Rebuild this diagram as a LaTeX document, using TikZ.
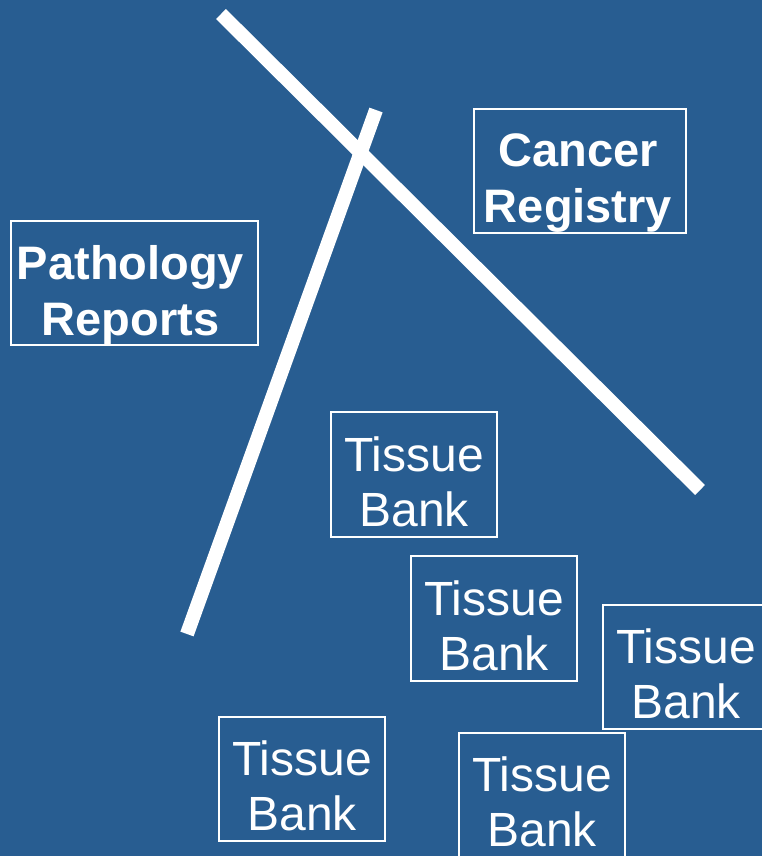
\documentclass[tikz,border=0pt]{standalone}
\usepackage{fontspec}
\setmainfont{Liberation Sans}
\definecolor{bgblue}{RGB}{40,93,145}
\tikzset{
  frame/.style={draw=white, line width=2pt, inner sep=0pt},
  txt/.style={text=white, align=center, inner sep=0pt, font=\fontsize{48}{55}\selectfont},
  boldtxt/.style={txt, font=\fontsize{47}{56}\selectfont\bfseries},
  bar/.style={draw=white, line width=14pt, line cap=butt}
}
\begin{document}
\begin{tikzpicture}[x=1pt,y=-1pt]
\useasboundingbox (0,0) rectangle (762,856);
\clip (0,0) rectangle (762,856);
\fill[bgblue] (0,0) rectangle (762,856);
\coordinate (l1a) at (221,14);
\coordinate (l1b) at (700,490);
\coordinate (l2a) at (376,110);
\coordinate (l2b) at (187,634);
\draw[bar] (l1a) -- (l1b);
\draw[bar] (l2a) -- (l2b);
\node[frame, minimum width=247pt, minimum height=124pt] (path) at (134.5,283) {};
\node[boldtxt] (pathtxt) at ([yshift=-12pt,xshift=-4pt]path.center) {Pathology\\Reports};
\node[frame, minimum width=212pt, minimum height=124pt] (cancer) at (580,171) {};
\node[boldtxt] (cancertxt) at ([yshift=-12pt,xshift=-2pt]cancer.center) {Cancer\\Registry};
\node[frame, minimum width=166pt, minimum height=125pt] (tb1) at (414,474.5) {};
\node[txt] (tb1txt) at ([yshift=-7pt]tb1.center) {Tissue\\Bank};
\node[frame, minimum width=166pt, minimum height=125pt] (tb2) at (494,618.5) {};
\node[txt] (tb2txt) at ([yshift=-7pt]tb2.center) {Tissue\\Bank};
\node[frame, minimum width=166pt, minimum height=124pt] (tb3) at (686,667) {};
\node[txt] (tb3txt) at ([yshift=-7pt]tb3.center) {Tissue\\Bank};
\node[frame, minimum width=166pt, minimum height=124pt] (tb4) at (302,779) {};
\node[txt] (tb4txt) at ([yshift=-7pt]tb4.center) {Tissue\\Bank};
\node[frame, minimum width=166pt, minimum height=124pt] (tb5) at (542,795) {};
\node[txt] (tb5txt) at ([yshift=-7pt]tb5.center) {Tissue\\Bank};
\end{tikzpicture}
\end{document}
